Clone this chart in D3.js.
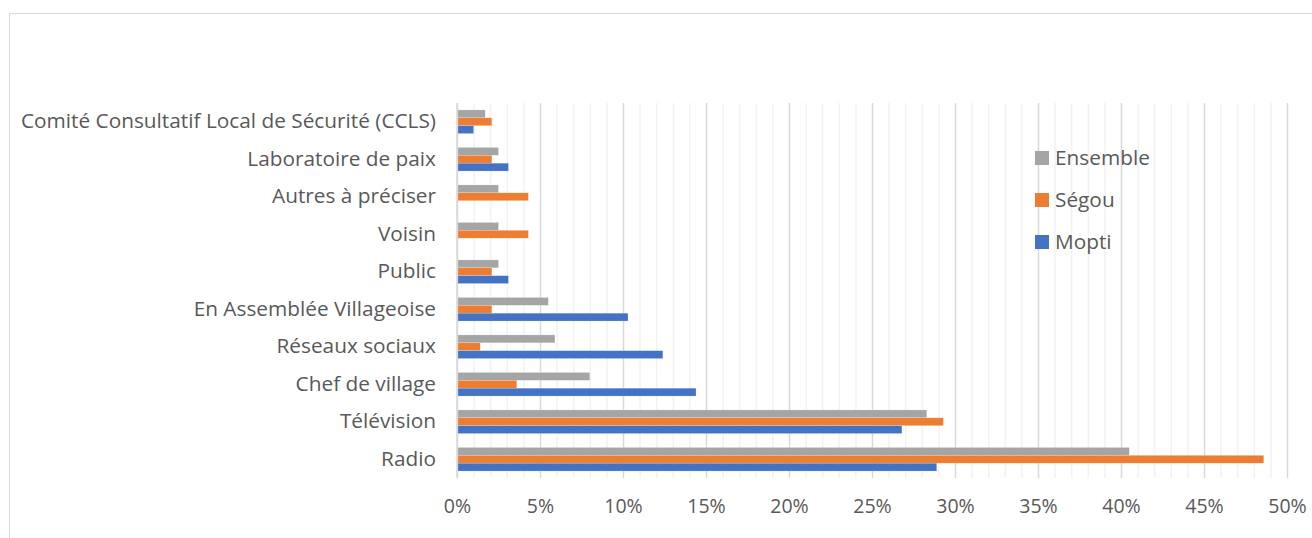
<!DOCTYPE html>
<html>
<head>
<meta charset="utf-8">
<script src="https://cdn.jsdelivr.net/npm/d3@7"></script>
<style>
  body { margin: 0; background: #fff; }
  svg text { font-family: "Open Sans", "Noto Sans", sans-serif; fill: #595959; font-variant-ligatures: none; }
</style>
</head>
<body>
<svg id="chart"></svg>
<script>
// categories, top to bottom as drawn
const categories = [
  'Comité Consultatif Local de Sécurité (CCLS)',
  'Laboratoire de paix',
  'Autres à préciser',
  'Voisin',
  'Public',
  'En Assemblée Villageoise',
  'Réseaux sociaux',
  'Chef de village',
  'Télévision',
  'Radio'
]
// values in %, same order as categories
const ensemble = [1.7, 2.5, 2.5, 2.5, 2.5, 5.5, 5.9, 8.0, 28.3, 40.5]
const segou    = [2.1, 2.1, 4.3, 4.3, 2.1, 2.1, 1.4, 3.6, 29.3, 48.6]
const mopti    = [1.0, 3.1, 0,   0,   3.1, 10.3, 12.4, 14.4, 26.8, 28.9]

const seriesNames = ['Ensemble', 'Ségou', 'Mopti']
const seriesColors = ['#A5A5A5', '#ED7D31', '#4472C4']
const xTicks = [0, 5, 10, 15, 20, 25, 30, 35, 40, 45, 50]

const width = 1312
const height = 538
const margin = { top: 103, right: 25, bottom: 60, left: 457 }
const w = width - margin.left - margin.right
const h = height - margin.top - margin.bottom
const labelSize = 20.8
const tickSize = 19.5

const svg = d3.select('#chart')
  .attr('width', width)
  .attr('height', height)

// chart frame
svg.append('path')
  .attr('d', `M9.5,${height} V13.5 H${width}`)
  .attr('fill', 'none')
  .attr('stroke', '#d9d9d9')
  .attr('stroke-width', 1)

const chart = svg.append('g')
  .attr('transform', `translate(${margin.left}, ${margin.top})`)

const xScale = d3.scaleLinear().domain([0, 50]).range([0, w])
const yScale = d3.scaleBand()
  .domain(categories)
  .range([0, h])
  .paddingInner(0.37)
  .paddingOuter(0.185)
const ySub = d3.scaleBand()
  .domain(seriesNames)
  .range([0, yScale.bandwidth()])

// minor gridlines every 1%
chart.append('g')
  .attr('class', 'grid minor')
  .call(d3.axisBottom(xScale).tickValues(d3.range(1, 51).filter(d => d % 5)).tickSize(h).tickFormat(''))
  .call(g => g.select('.domain').remove())
  .call(g => g.selectAll('line').attr('stroke', '#f2f2f2').attr('stroke-width', 1.5))

// major gridlines
chart.append('g')
  .attr('class', 'grid major')
  .call(d3.axisBottom(xScale).tickValues(xTicks).tickSize(h).tickFormat(''))
  .call(g => g.select('.domain').remove())
  .call(g => g.selectAll('line').attr('stroke', '#d9d9d9').attr('stroke-width', 1.5))

// x axis labels
chart.append('g')
  .attr('class', 'x axis')
  .attr('transform', `translate(0, ${h})`)
  .call(d3.axisBottom(xScale).tickValues(xTicks).tickSize(0).tickPadding(21).tickFormat(d => d + '%'))
  .call(g => g.select('.domain').remove())
  .call(g => g.selectAll('text').attr('font-size', tickSize).style('font-family', null))

// y axis labels
chart.append('g')
  .attr('class', 'y axis')
  .call(d3.axisLeft(yScale).tickSize(0).tickPadding(21))
  .call(g => g.select('.domain').remove())
  .call(g => g.selectAll('text').attr('font-size', labelSize).style('font-family', null))

// bars
const data = categories.map((c, i) => ({
  category: c,
  values: [ensemble[i], segou[i], mopti[i]]
}))

const groups = chart.selectAll('.group')
  .data(data)
  .enter()
  .append('g')
  .attr('class', 'group')
  .attr('transform', d => `translate(0, ${yScale(d.category)})`)

groups.selectAll('rect')
  .data(d => d.values.map((v, j) => ({ name: seriesNames[j], value: v, color: seriesColors[j] })))
  .enter()
  .append('rect')
  .attr('x', 1)
  .attr('y', d => ySub(d.name))
  .attr('width', d => Math.max(0, xScale(d.value) - 1))
  .attr('height', ySub.bandwidth())
  .attr('fill', d => d.color)
  .attr('stroke', '#fff')
  .attr('stroke-opacity', 0.4)
  .attr('stroke-width', 0.5)

// axis line at 0
chart.append('line')
  .attr('x1', 0).attr('x2', 0)
  .attr('y1', 0).attr('y2', h)
  .attr('stroke', '#d9d9d9')
  .attr('stroke-width', 1.5)

// legend
const legend = svg.append('g')
  .attr('class', 'legend')
  .attr('transform', 'translate(1035, 158)')

const items = legend.selectAll('.item')
  .data(seriesNames)
  .enter()
  .append('g')
  .attr('class', 'item')
  .attr('transform', (d, i) => `translate(0, ${i * 42})`)

items.append('rect')
  .attr('x', 0)
  .attr('y', -7)
  .attr('width', 14)
  .attr('height', 14)
  .attr('fill', (d, i) => seriesColors[i])

items.append('text')
  .attr('x', 20)
  .attr('dy', '0.35em')
  .attr('font-size', labelSize)
  .text(d => d)
</script>
</body>
</html>
